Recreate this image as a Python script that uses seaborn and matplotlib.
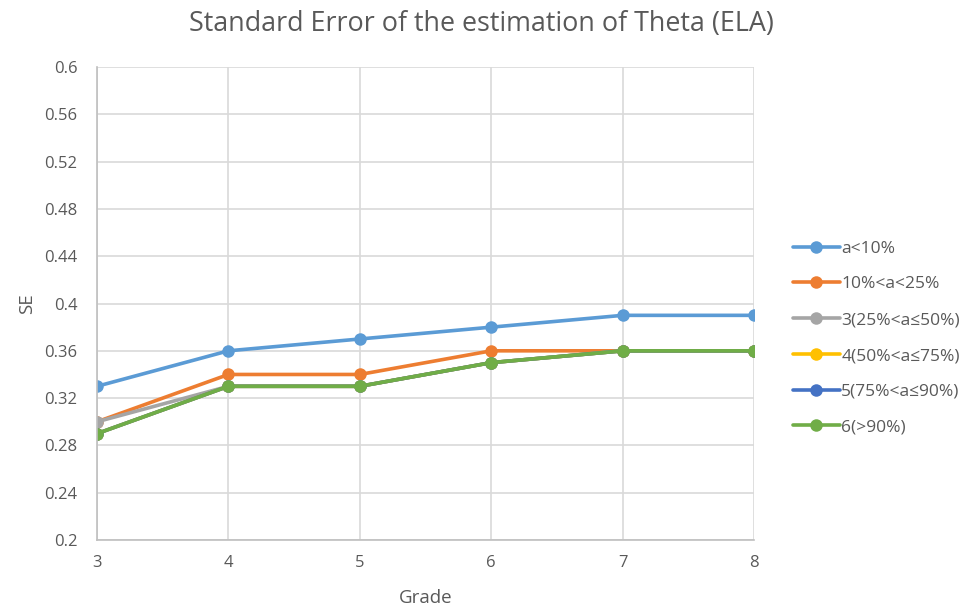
import pandas as pd
import seaborn as sns
import matplotlib.pyplot as plt

# Data
grades = [3, 4, 5, 6, 7, 8]
groups = ["a<10%", "10%<a<25%", "3(25%<a≤50%)", "4(50%<a≤75%)", "5(75%<a≤90%)", "6(>90%)"]
se_a10 = [0.33, 0.36, 0.37, 0.38, 0.39, 0.39]
se_10_25 = [0.30, 0.34, 0.34, 0.36, 0.36, 0.36]
se_25_50 = [0.30, 0.33, 0.33, 0.35, 0.36, 0.36]
se_50_75 = [0.29, 0.33, 0.33, 0.35, 0.36, 0.36]
se_75_90 = [0.29, 0.33, 0.33, 0.35, 0.36, 0.36]
se_90 = [0.29, 0.33, 0.33, 0.35, 0.36, 0.36]
y_ticks = [0.2, 0.24, 0.28, 0.32, 0.36, 0.4, 0.44, 0.48, 0.52, 0.56, 0.6]
colors = ["#5B9BD5", "#ED7D31", "#A5A5A5", "#FFC000", "#4472C4", "#70AD47"]

series = [se_a10, se_10_25, se_25_50, se_50_75, se_75_90, se_90]
df = pd.concat(
    [pd.DataFrame({"Grade": grades, "SE": vals, "Group": name}) for name, vals in zip(groups, series)],
    ignore_index=True,
)

sns.set_style("white")
plt.rcParams["font.family"] = ["Open Sans", "DejaVu Sans"]
text_color = "#595959"

fig = plt.figure(figsize=(9.78, 6.08), dpi=100)
ax = fig.add_axes([0.0992, 0.1118, 0.6718, 0.778])

sns.lineplot(
    data=df, x="Grade", y="SE", hue="Group", hue_order=groups, palette=colors,
    marker="o", markersize=9, markeredgewidth=0, linewidth=2.6, ax=ax, legend=True,
)

ax.set_xlim(3, 8)
ax.set_ylim(0.2, 0.6)
ax.set_xticks(grades)
ax.set_yticks(y_ticks)
ax.set_yticklabels([f"{t:g}" for t in y_ticks])
ax.grid(True, color="#D9D9D9", linewidth=1.2)
ax.set_axisbelow(True)
for side in ["top", "right"]:
    ax.spines[side].set_visible(False)
for side in ["left", "bottom"]:
    ax.spines[side].set_color("#BFBFBF")
    ax.spines[side].set_linewidth(1.2)
ax.tick_params(axis="y", length=0, labelsize=12, colors=text_color, pad=14)
ax.tick_params(axis="x", length=0, labelsize=12, colors=text_color, pad=11)

ax.set_xlabel("Grade", fontsize=13.5, color=text_color)
ax.set_ylabel("SE", fontsize=13.5, color=text_color)
ax.xaxis.set_label_coords(0.5, -0.104)
ax.yaxis.set_label_coords(-0.093, 0.5)
fig.suptitle("Standard Error of the estimation of Theta (ELA)", fontsize=19.4,
             color=text_color, x=0.492, y=0.983)

handles, labels = ax.get_legend_handles_labels()
ax.legend(
    handles, labels, loc="center left", bbox_to_anchor=(1.035, 0.427), frameon=False,
    fontsize=12.5, labelcolor=text_color, handlelength=2.7, handletextpad=0.1,
    labelspacing=1.13,
)

fig.savefig("out.png", dpi=100)
